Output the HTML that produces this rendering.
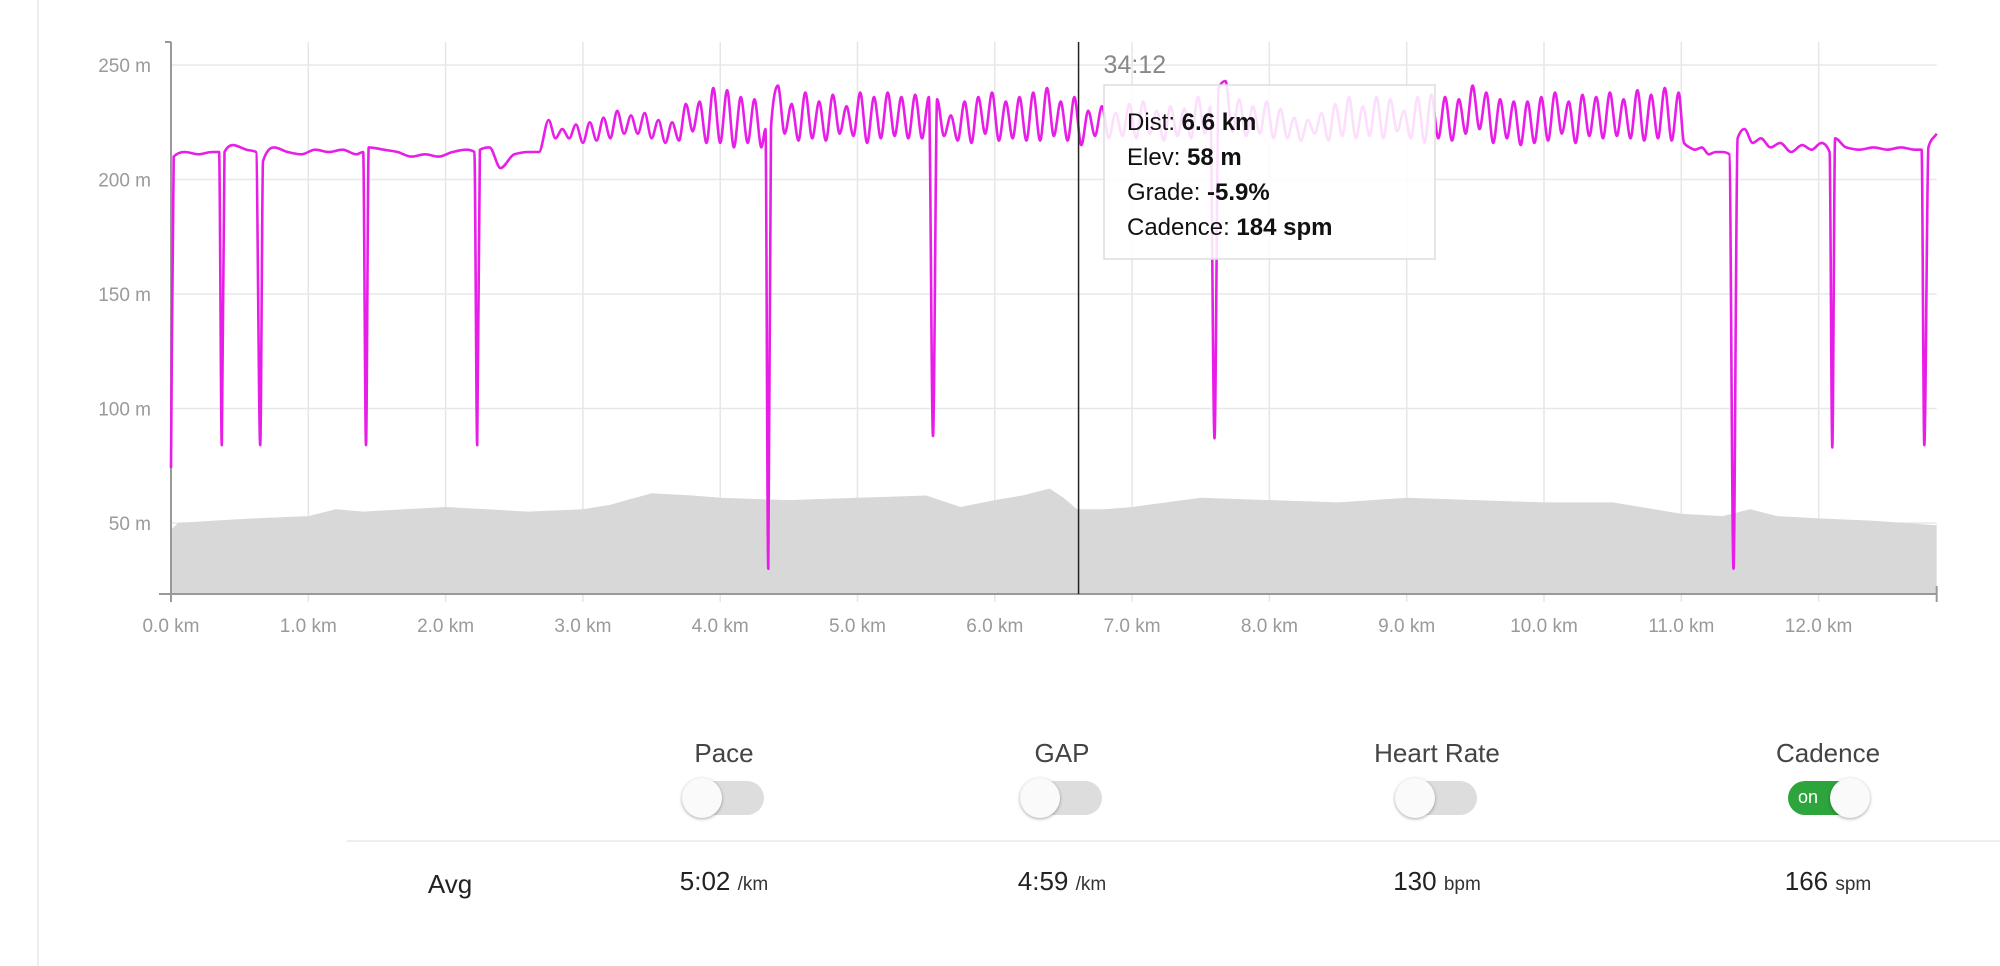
<!DOCTYPE html>
<html><head><meta charset="utf-8">
<style>
html,body{margin:0;padding:0;background:#fff;width:2000px;height:966px;overflow:hidden;font-family:"Liberation Sans",sans-serif}
#wrap{position:relative;width:2000px;height:966px}
.lbl{position:absolute;transform:translateX(-50%);color:#444;font-size:26px;white-space:nowrap}
.val{position:absolute;transform:translateX(-50%);color:#222;font-size:26px;white-space:nowrap}
.val small{font-size:19px;color:#333}
.tog{position:absolute;width:80px;height:34px;border-radius:17px;background:#ddd;transform:translateX(-50%)}
.tog .knob{position:absolute;top:-3px;left:-2px;width:40px;height:40px;border-radius:50%;background:#fafafa;box-shadow:0 1px 3px rgba(0,0,0,.35)}
.tog.on{background:#2ea43c}
.tog.on .knob{left:auto;right:-2px}
.tog.on span{position:absolute;left:10px;top:6px;color:#fff;font-size:18px}
</style></head><body>
<div id="wrap">
<div style="position:absolute;left:37px;top:0;width:2px;height:966px;background:#eee"></div>
<svg id="chart" width="2000" height="640" style="position:absolute;left:0;top:0"></svg>

<div class="lbl" style="left:724px;top:738px">Pace</div>
<div class="lbl" style="left:1062px;top:738px">GAP</div>
<div class="lbl" style="left:1437px;top:738px">Heart Rate</div>
<div class="lbl" style="left:1828px;top:738px">Cadence</div>
<div class="tog" style="left:724px;top:781px"><div class="knob"></div></div>
<div class="tog" style="left:1062px;top:781px"><div class="knob"></div></div>
<div class="tog" style="left:1437px;top:781px"><div class="knob"></div></div>
<div class="tog on" style="left:1828px;top:781px"><span>on</span><div class="knob"></div></div>
<div style="position:absolute;left:347px;top:840px;width:1653px;height:2px;background:#eee"></div>
<div class="val" style="left:450px;top:869px;color:#222">Avg</div>
<div class="val" style="left:724px;top:866px">5:02 <small>/km</small></div>
<div class="val" style="left:1062px;top:866px">4:59 <small>/km</small></div>
<div class="val" style="left:1437px;top:866px">130 <small>bpm</small></div>
<div class="val" style="left:1828px;top:866px">166 <small>spm</small></div>
</div>
<script>
const xTicks = [0,1,2,3,4,5,6,7,8,9,10,11,12];
const yTicks = [50,100,150,200,250];
const elevKm = [0,0.05,0.3,0.6,1.0,1.2,1.4,1.7,2.0,2.3,2.6,3.0,3.2,3.5,3.8,4.0,4.5,5.0,5.5,5.75,6.0,6.2,6.4,6.5,6.6,6.8,7.0,7.5,8.0,8.5,9.0,9.5,10.0,10.5,11.0,11.3,11.5,11.7,12.0,12.4,12.86];
const elevM = [47,50,51,52,53,56,55,56,57,56,55,56,58,63,62,61,60,61,62,57,60,62,65,61,56,56,57,61,60,59,61,60,59,59,54,53,56,53,52,51,49];
const cadKm = [0,0.02,0.1,0.2,0.3,0.35,0.37,0.39,0.45,0.55,0.62,0.65,0.67,0.75,0.85,0.95,1.05,1.15,1.25,1.35,1.40,1.42,1.44,1.55,1.65,1.75,1.85,1.95,2.05,2.15,2.21,2.23,2.25,2.32,2.4,2.5,2.6,2.68,2.75,2.8,2.85,2.9,2.95,3.0,3.05,3.1,3.15,3.2,3.25,3.3,3.35,3.4,3.45,3.5,3.55,3.6,3.65,3.7,3.75,3.8,3.85,3.9,3.95,4.0,4.05,4.1,4.15,4.2,4.25,4.3,4.33,4.35,4.37,4.42,4.47,4.52,4.57,4.62,4.67,4.72,4.77,4.82,4.87,4.92,4.97,5.02,5.07,5.12,5.17,5.22,5.27,5.32,5.37,5.42,5.47,5.52,5.55,5.58,5.63,5.68,5.73,5.78,5.83,5.88,5.93,5.98,6.03,6.08,6.13,6.18,6.23,6.28,6.33,6.38,6.43,6.48,6.53,6.58,6.63,6.68,6.73,6.78,6.83,6.88,6.93,6.98,7.03,7.08,7.13,7.18,7.23,7.28,7.33,7.38,7.43,7.48,7.53,7.57,7.60,7.63,7.68,7.73,7.78,7.83,7.88,7.93,7.98,8.03,8.08,8.13,8.18,8.23,8.28,8.33,8.38,8.43,8.48,8.53,8.58,8.63,8.68,8.73,8.78,8.83,8.88,8.93,8.98,9.03,9.08,9.13,9.18,9.23,9.28,9.33,9.38,9.43,9.48,9.53,9.58,9.63,9.68,9.73,9.78,9.83,9.88,9.93,9.98,10.03,10.08,10.13,10.18,10.23,10.28,10.33,10.38,10.43,10.48,10.53,10.58,10.63,10.68,10.73,10.78,10.83,10.88,10.93,10.98,11.02,11.06,11.1,11.15,11.2,11.25,11.3,11.35,11.38,11.41,11.46,11.52,11.58,11.65,11.72,11.8,11.88,11.95,12.02,12.08,12.1,12.12,12.2,12.3,12.4,12.5,12.6,12.7,12.75,12.77,12.8,12.86];
const cadSpm = [74,210,212,211,212,212,84,212,215,213,212,84,208,214,212,211,213,212,213,211,212,84,214,213,212,210,211,210,212,213,212,84,213,214,205,211,212,212,226,218,222,218,224,216,225,217,227,218,230,220,228,220,229,218,226,216,225,217,233,221,234,216,240,216,239,214,236,216,235,214,222,30,223,241,220,233,217,238,218,234,217,237,220,232,219,238,216,236,218,238,219,236,218,237,218,236,88,235,219,228,217,234,216,236,220,238,217,234,218,236,217,238,217,240,219,234,217,236,215,230,219,232,218,229,219,233,218,234,220,230,217,232,219,231,218,236,220,232,87,240,243,221,235,219,232,220,234,218,231,218,227,217,226,220,229,217,233,219,236,218,232,219,236,218,235,221,230,218,236,216,237,218,236,217,235,220,241,222,238,216,235,218,234,215,234,216,236,217,238,220,234,216,237,219,236,218,238,219,235,218,239,217,237,218,240,217,238,216,214,213,214,211,212,212,211,30,218,222,216,218,214,216,212,215,213,216,212,83,218,214,213,214,213,214,213,213,84,214,220];
const cursorKm = 6.61;

const NS='http://www.w3.org/2000/svg';
const svg=document.getElementById('chart');
const X0=171, PXKM=137.3, XMAX=12.86;
const x=k=>X0+k*PXKM;
const y=v=>523-(v-50)*2.29;
const yBottom=594, yTop=42;
function mk(tag,attrs,parent){const e=document.createElementNS(NS,tag);for(const k in attrs)e.setAttribute(k,attrs[k]);(parent||svg).appendChild(e);return e;}
function monotonePath(px,py){
  const n=px.length, dx=[], m=[], t=new Array(n);
  for(let i=0;i<n-1;i++){dx[i]=px[i+1]-px[i];m[i]=(py[i+1]-py[i])/dx[i];}
  t[0]=m[0];t[n-1]=m[n-2];
  for(let i=1;i<n-1;i++){
    if(m[i-1]*m[i]<=0)t[i]=0;
    else{const w1=2*dx[i]+dx[i-1],w2=dx[i]+2*dx[i-1];t[i]=(w1+w2)/(w1/m[i-1]+w2/m[i]);}
  }
  let d='M'+px[0].toFixed(1)+','+py[0].toFixed(1);
  for(let i=0;i<n-1;i++){
    const h=dx[i]/3;
    d+=' C'+(px[i]+h).toFixed(1)+','+(py[i]+t[i]*h).toFixed(1)+' '+(px[i+1]-h).toFixed(1)+','+(py[i+1]-t[i+1]*h).toFixed(1)+' '+px[i+1].toFixed(1)+','+py[i+1].toFixed(1);
  }
  return d;
}

xTicks.forEach(k=>{
  const g=mk('line',{x1:x(k),x2:x(k),y1:yTop,y2:yBottom+8,stroke:k===0?'#999':'#e6e6e6','stroke-width':k===0?2:1.5});
  
  
  const t=mk('text',{x:x(k),y:632,'text-anchor':'middle','font-size':19,fill:'#9a9a9a','font-family':'Liberation Sans, sans-serif'});
  t.textContent=k.toFixed(1)+' km';
  
  
});
yTicks.forEach(v=>{
  const g=mk('line',{x1:x(0),x2:x(XMAX),y1:y(v),y2:y(v),stroke:'#e8e8e8','stroke-width':1.5});
  
  
  const t=mk('text',{x:151,y:y(v)+7,'text-anchor':'end','font-size':19,fill:'#9a9a9a','font-family':'Liberation Sans, sans-serif'});
  t.textContent=v+' m';
  
  
});
let d='M'+x(elevKm[0])+','+yBottom;
elevKm.forEach((k,i)=>{d+=' L'+x(k).toFixed(1)+','+y(elevM[i]).toFixed(1);});
d+=' L'+x(elevKm[elevKm.length-1])+','+yBottom+' Z';
const area=mk('path',{d:d,fill:'#d8d8d8'});


const ax=mk('line',{x1:x(0),x2:x(0),y1:yTop,y2:yBottom,stroke:'#999','stroke-width':2});


mk('line',{x1:x(0)-6,x2:x(0),y1:yTop,y2:yTop,stroke:'#999','stroke-width':2});
const bx=mk('line',{x1:x(0)-12,x2:x(XMAX),y1:yBottom,y2:yBottom,stroke:'#999','stroke-width':2});


mk('line',{x1:x(XMAX),x2:x(XMAX),y1:yBottom-8,y2:yBottom+8,stroke:'#999','stroke-width':2});
const line=mk('path',{d:monotonePath(cadKm.map(x),cadSpm.map(y)),fill:'none',stroke:'#e81ee8','stroke-width':2.6,'stroke-linejoin':'round'});


const cur=mk('line',{x1:x(cursorKm),x2:x(cursorKm),y1:yTop,y2:yBottom,stroke:'#222','stroke-width':1.5});


const tt=mk('text',{x:x(cursorKm)+25,y:73,'font-size':25,fill:'#888','font-family':'Liberation Sans, sans-serif'});
tt.textContent='34:12';


const box=mk('rect',{x:1104,y:85,width:331,height:174,fill:'rgba(255,255,255,0.86)',stroke:'#ddd','stroke-width':1.5});


const rows=[['Dist: ','6.6 km'],['Elev: ','58 m'],['Grade: ','-5.9%'],['Cadence: ','184 spm']];
rows.forEach((r,i)=>{
  const t=mk('text',{x:1127,y:130+i*35,'font-size':24,fill:'#111','font-family':'Liberation Sans, sans-serif'});
  
  
  const a=mk('tspan',{},t);a.textContent=r[0];
  const b=mk('tspan',{'font-weight':'bold'},t);b.textContent=r[1];
});
</script>
</body></html>
